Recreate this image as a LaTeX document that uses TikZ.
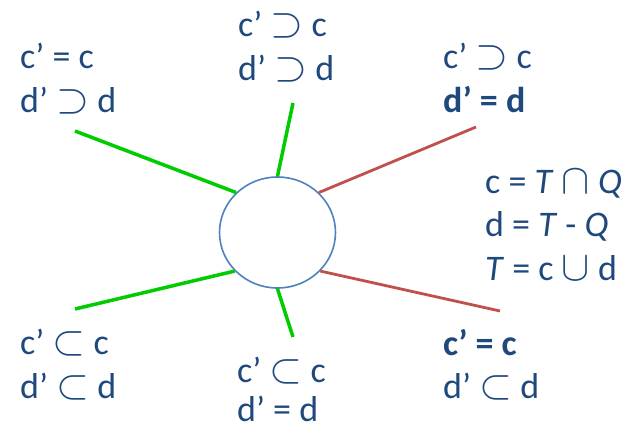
\documentclass[tikz,border=0pt]{standalone}
\usepackage{fontspec}
\setmainfont{Carlito}
\usetikzlibrary{shapes.geometric}
\definecolor{txt}{HTML}{1F497D}
\definecolor{gline}{RGB}{0,204,0}
\definecolor{rline}{HTML}{C0504D}
\definecolor{cblue}{HTML}{4F81BD}
\newcommand\bsym[1]{\scalebox{1.7}{$#1$}}
\begin{document}
\begin{tikzpicture}[x=1pt,y=-1pt,
  lbl/.style={anchor=base west,inner sep=0pt,align=left,text=txt,font=\fontsize{36}{44}\selectfont},
  gl/.style={draw=gline,line width=3.5pt},
  rl/.style={draw=rline,line width=2.8pt}]
\useasboundingbox (0,0) rectangle (625,429);
\node[ellipse,draw=cblue,line width=1.6pt,minimum width=116pt,minimum height=111pt,inner sep=0pt] (circ) at (277.5,232.5) {};
\coordinate (ul) at (75,131);
\coordinate (tp) at (293,103);
\coordinate (ur) at (476,127);
\coordinate (ll) at (75,309);
\coordinate (bt) at (293,337);
\coordinate (lr) at (500,311);
\draw[gl] (circ.136) -- (ul);
\draw[gl] (circ.90) -- (tp);
\draw[rl] (circ.44) -- (ur);
\draw[gl] (circ.222) -- (ll);
\draw[gl] (circ.270) -- (bt);
\draw[rl] (circ.318) -- (lr);
\node[lbl] (a) at (20,112) {c’ = c\\d’ \bsym{\supset} d};
\node[lbl] (b) at (238,80) {c’ \bsym{\supset} c\\d’ \bsym{\supset} d};
\node[lbl] (c) at (443,112) {c’ \bsym{\supset} c\\\bfseries d’ = d};
\node[lbl,font=\fontsize{36}{43.5}\selectfont] (r) at (485,280) {c = \textit{T} \bsym{\cap} \textit{Q}\\d = \textit{T} - \textit{Q}\\\textit{T} = c \bsym{\cup} d};
\node[lbl] (d) at (20,398) {c’ \bsym{\subset} c\\d’ \bsym{\subset} d};
\node[lbl,font=\fontsize{36}{39}\selectfont] (e) at (237,421) {c’ \bsym{\subset} c\\d’ = d};
\node[lbl,font=\fontsize{36}{43}\selectfont] (f) at (443,398) {\bfseries c’ = c\\d’ \bsym{\subset} d};
\end{tikzpicture}
\end{document}
